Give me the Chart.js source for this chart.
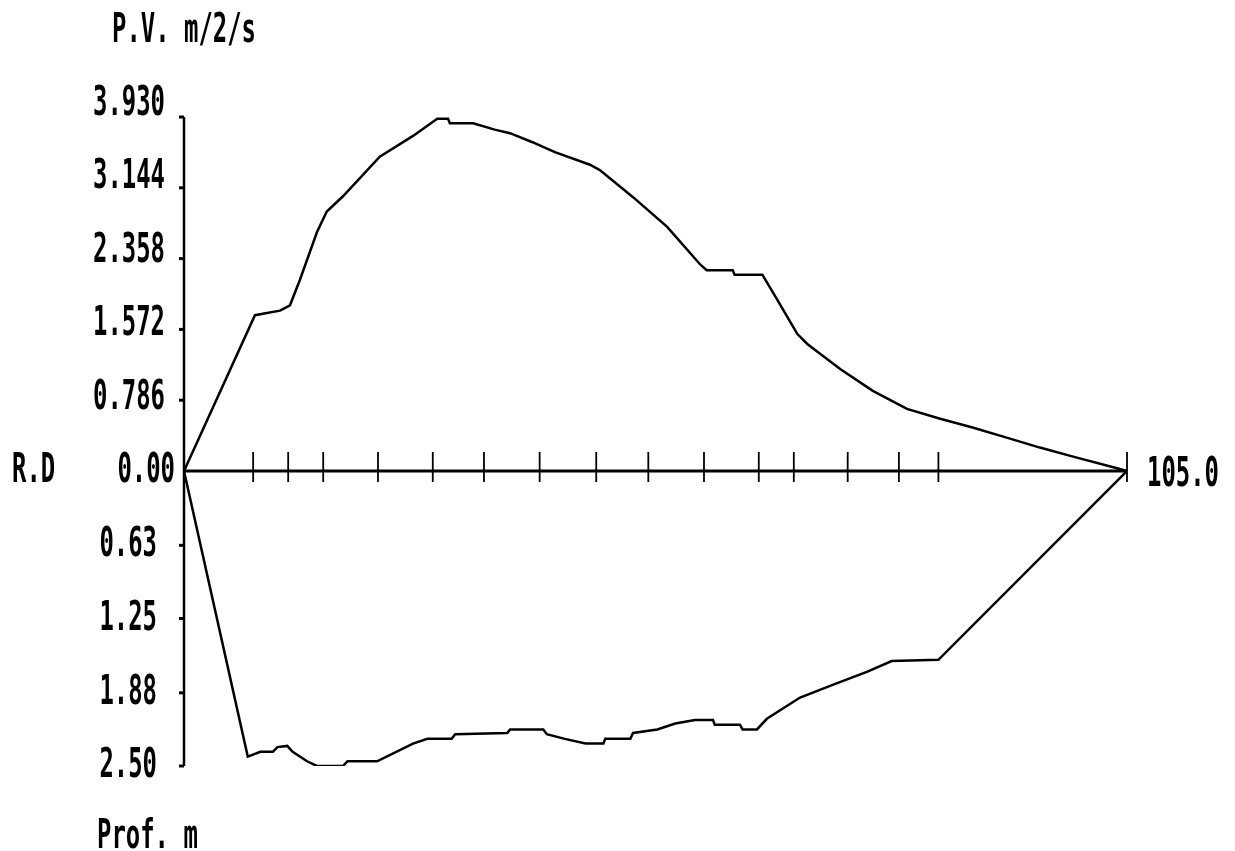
<!DOCTYPE html>
<html>
<head>
<meta charset="utf-8">
<title>P.V. / R.D</title>
<script src="https://cdn.jsdelivr.net/npm/chart.js@4/dist/chart.umd.min.js"></script>
<style>
  html, body { margin: 0; padding: 0; background: #fff; }
  canvas { display: block; }
</style>
</head>
<body>
<canvas id="profile" width="1235" height="851"></canvas>
<script>
// Distancia (m) y valores de cada curva
const pvDist = [0, 7.9, 10.7, 11.8, 12.9, 14.8, 15.9, 17.7, 21.8, 25.5, 28.2, 29.4, 29.6, 32.2,
  34.6, 36.3, 38.8, 41.3, 45.2, 46.3, 50.0, 53.8, 57.5, 58.2, 61.1, 61.3, 64.4, 66.0, 68.3,
  69.4, 73.1, 76.7, 80.5, 84.2, 87.9, 91.6, 95.3, 99.0, 103.9, 105];
const pvVal = [0, 1.73, 1.78, 1.84, 2.12, 2.65, 2.88, 3.05, 3.49, 3.72, 3.91, 3.91, 3.86, 3.86,
  3.79, 3.75, 3.65, 3.54, 3.40, 3.34, 3.04, 2.71, 2.29, 2.23, 2.23, 2.18, 2.18, 1.91, 1.52,
  1.41, 1.13, 0.89, 0.69, 0.58, 0.48, 0.37, 0.26, 0.16, 0.03, 0];

const rdDist = [0, 7.1, 8.5, 9.9, 10.4, 11.5, 12.1, 13.7, 14.8, 17.7, 18.2, 21.5, 25.5, 27.1,
  29.8, 30.2, 36.0, 36.3, 40.0, 40.4, 42.4, 44.7, 46.7, 46.9, 49.7, 50.0, 52.7, 54.7, 56.9,
  58.9, 59.1, 61.9, 62.2, 63.8, 64.9, 68.6, 72.3, 76.1, 78.8, 84.0, 105];
const rdVal = [0, 2.42, 2.38, 2.38, 2.34, 2.33, 2.38, 2.46, 2.50, 2.50, 2.46, 2.46, 2.31, 2.27,
  2.27, 2.23, 2.22, 2.19, 2.19, 2.23, 2.27, 2.31, 2.31, 2.27, 2.27, 2.22, 2.19, 2.14, 2.11,
  2.11, 2.15, 2.15, 2.19, 2.19, 2.10, 1.92, 1.81, 1.70, 1.61, 1.60, 0];

// Estaciones marcadas sobre el eje horizontal
const stations = [7.7, 11.6, 15.5, 21.6, 27.7, 33.4, 39.6, 45.9, 51.7, 57.9, 64.0, 67.9, 73.9, 79.6, 84.0];
const distMax = 105;
const distLabel = '105.0';

// Marcas de los ejes verticales
const pvTicks = [0.786, 1.572, 2.358, 3.144, 3.930];
const pvTickLabels = ['0.786', '1.572', '2.358', '3.144', '3.930'];
const rdTicks = [0.63, 1.25, 1.88, 2.50];
const rdTickLabels = ['0.63', '1.25', '1.88', '2.50'];
const zeroLabel = '0.00';

const pvMax = 3.93;
const rdMax = 2.5;

const FONT = 'bold 40px "DejaVu Sans Mono", monospace';
const CHAR_W = 14.4; // ancho de celda de la fuente de la impresora

function pts(xs, ys) {
  return xs.map((x, i) => ({ x, y: ys[i] }));
}

// Texto monoespaciado estrecho (celda de 14.4 px)
function drawText(ctx, text, x, baseline, align) {
  ctx.save();
  ctx.font = FONT;
  ctx.textAlign = 'left';
  ctx.textBaseline = 'alphabetic';
  const natural = ctx.measureText(text).width;
  const sx = (CHAR_W * text.length) / natural;
  const left = align === 'right' ? x - CHAR_W * text.length : x;
  ctx.translate(left, baseline);
  ctx.scale(sx, 1);
  ctx.fillStyle = '#000';
  ctx.fillText(text, 0, 0);
  ctx.restore();
}

const axesPlugin = {
  id: 'plotAxes',
  beforeDatasetsDraw(chart) {
    const ctx = chart.ctx;
    const xs = chart.scales.x;
    const pv = chart.scales.yPV;
    const rd = chart.scales.yRD;
    const x0 = xs.getPixelForValue(0);
    const y0 = pv.getPixelForValue(0);

    ctx.save();
    ctx.strokeStyle = '#000';
    ctx.lineCap = 'butt';

    // eje vertical
    ctx.lineWidth = 2.5;
    ctx.beginPath();
    ctx.moveTo(x0, pv.getPixelForValue(pvMax));
    ctx.lineTo(x0, rd.getPixelForValue(rdMax));
    ctx.stroke();

    // eje horizontal
    ctx.lineWidth = 3;
    ctx.beginPath();
    ctx.moveTo(x0, y0);
    ctx.lineTo(xs.getPixelForValue(distMax), y0);
    ctx.stroke();

    // marcas cortas del eje vertical
    ctx.lineWidth = 3;
    const stub = (py) => {
      ctx.beginPath();
      ctx.moveTo(x0 - 5, py);
      ctx.lineTo(x0, py);
      ctx.stroke();
    };
    pvTicks.forEach(v => stub(pv.getPixelForValue(v)));
    rdTicks.forEach(v => stub(rd.getPixelForValue(v)));

    // estaciones
    ctx.lineWidth = 1.8;
    stations.concat([distMax]).forEach(d => {
      const px = xs.getPixelForValue(d);
      ctx.beginPath();
      ctx.moveTo(px, y0 - 19);
      ctx.lineTo(px, y0 + 11);
      ctx.stroke();
    });
    ctx.restore();
  },
  afterDraw(chart) {
    const ctx = chart.ctx;
    const xs = chart.scales.x;
    const pv = chart.scales.yPV;
    const rd = chart.scales.yRD;
    const y0 = pv.getPixelForValue(0);

    // las filas de texto van con un paso algo mayor que el de las marcas
    pvTicks.forEach((v, i) => {
      const py = pv.getPixelForValue(v);
      drawText(ctx, pvTickLabels[i], 165, y0 + 11 - (y0 - py) * 1.037, 'right');
    });
    drawText(ctx, zeroLabel, 175, y0 + 11, 'right');
    rdTicks.forEach((v, i) => {
      drawText(ctx, rdTickLabels[i], 157, rd.getPixelForValue(v) + 11, 'right');
    });

    drawText(ctx, 'P.V. m/2/s', 112, 42);
    drawText(ctx, 'R.D', 12, y0 + 11);
    drawText(ctx, 'Prof. m', 97, 848);
    drawText(ctx, distLabel, xs.getPixelForValue(distMax) + 20, y0 + 15);
  }
};

new Chart(document.getElementById('profile').getContext('2d'), {
  type: 'line',
  data: {
    datasets: [
      {
        label: 'P.V.',
        data: pts(pvDist, pvVal),
        yAxisID: 'yPV',
        borderColor: '#000',
        borderWidth: 2.5,
        pointRadius: 0,
        tension: 0,
        fill: false
      },
      {
        label: 'R.D',
        data: pts(rdDist, rdVal),
        yAxisID: 'yRD',
        borderColor: '#000',
        borderWidth: 2.5,
        pointRadius: 0,
        tension: 0,
        fill: false
      }
    ]
  },
  options: {
    responsive: false,
    animation: false,
    events: [],
    layout: { padding: { left: 184, right: 108, top: 117, bottom: 85 } },
    plugins: {
      legend: { display: false },
      tooltip: { enabled: false }
    },
    scales: {
      x: { type: 'linear', min: 0, max: distMax, display: false },
      // en una pila de ejes a la izquierda, el último definido queda arriba
      yRD: {
        type: 'linear', min: 0, max: rdMax, reverse: true, position: 'left',
        stack: 'profile', stackWeight: 295, display: false
      },
      yPV: {
        type: 'linear', min: 0, max: pvMax, position: 'left',
        stack: 'profile', stackWeight: 354, display: false
      }
    }
  },
  plugins: [axesPlugin]
});
</script>
</body>
</html>
